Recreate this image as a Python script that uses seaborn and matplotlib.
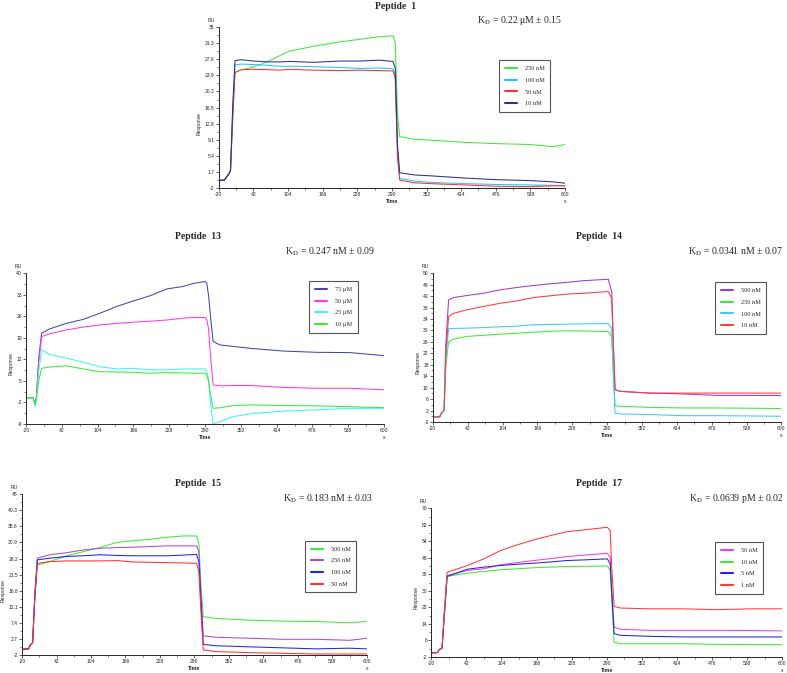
import numpy as np
import pandas as pd
import matplotlib
matplotlib.use("Agg")
import matplotlib.pyplot as plt
from matplotlib.ticker import AutoMinorLocator, FixedLocator
import seaborn as sns

sns.set_style("ticks")
plt.rcParams["font.family"] = ["Liberation Sans", "DejaVu Sans"]
plt.rcParams["mathtext.fontset"] = "stix"

# values (time in s, response in RU)
xticks = [-20, 42, 104, 166, 228, 290, 352, 414, 476, 538, 600]

# Peptide 1
p1_time = [-20, -10, -7, -2, 1, 5, 9, 20, 42, 70, 90, 107, 150, 197, 233, 268, 292, 296, 300, 304, 330, 358, 418, 478, 537, 579, 600]
p1_250 = [-0.2, -0.1, 0.3, 1.3, 2.0, 15, 24.5, 25.2, 25.8, 27.2, 28.5, 29.5, 30.6, 31.6, 32.2, 32.8, 33.0, 31.5, 15, 9.8, 9.2, 9.0, 8.5, 8.2, 8.0, 7.5, 8.0]
p1_100 = [-0.2, -0.2, 0.3, 1.2, 1.9, 16, 26.3, 26.5, 26.4, 26.2, 26.0, 26.0, 25.9, 25.7, 25.5, 25.6, 25.4, 24.0, 6, 0.2, -0.4, -0.7, -1.0, -1.2, -1.3, -1.4, -1.5]
p1_50 = [-0.2, -0.2, 0.4, 1.3, 2.0, 14, 24.6, 25.2, 25.3, 25.2, 25.1, 25.3, 25.1, 25.0, 25.1, 25.0, 24.9, 23.0, 5, -0.2, -0.8, -1.0, -1.3, -1.6, -1.7, -1.5, -1.5]
p1_10 = [-0.3, -0.2, 0.4, 1.2, 2.0, 17, 27.3, 27.5, 27.2, 27.0, 27.0, 27.1, 26.9, 27.2, 27.2, 27.4, 27.1, 25.5, 8, 1.5, 1.0, 0.8, 0.3, -0.1, -0.3, -0.6, -0.9]
p1_labels = ["250 nM", "100 nM", "50 nM", "10 nM"]
p1_colors = ["#3ee83e", "#1ec8ff", "#ff3030", "#2e2e96"]
p1_yticks = ["-2", "1.7", "5.4", "9.1", "12.8", "16.5", "20.2", "23.9", "27.6", "31.3", "35"]

# Peptide 13
p13_time = [-20, -8, -4, -2, 2, 7, 21, 50, 79, 108, 137, 166, 195, 224, 252, 270, 290, 293, 296, 300, 304, 316, 339, 368, 426, 483, 541, 600]
p13_75 = [-0.5, -0.4, -2.5, -0.5, 12, 20.5, 21.9, 23.7, 25.0, 27.0, 29.2, 31.0, 32.7, 34.9, 35.7, 36.7, 37.3, 36.8, 33.0, 25, 17.8, 16.7, 16.2, 15.6, 14.7, 14.3, 14.2, 13.2]
p13_50 = [-0.5, -0.4, -2.5, -0.5, 11, 19.4, 20.3, 21.6, 22.5, 23.2, 23.7, 24.1, 24.4, 24.8, 25.4, 25.6, 25.6, 25.0, 22.1, 12, 3.7, 3.4, 3.5, 3.5, 2.9, 2.6, 2.6, 2.1]
p13_25 = [-0.5, -0.6, -3.4, -1.0, 8, 15.1, 13.6, 12.4, 11.1, 9.6, 8.9, 9.1, 8.6, 8.6, 8.9, 8.9, 8.9, 8.0, 5.9, -3, -9.0, -8.2, -6.6, -5.7, -4.8, -4.4, -3.9, -3.9]
p13_10 = [-0.5, -0.5, -2.6, -0.8, 5, 9.1, 9.5, 9.9, 8.9, 8.0, 7.9, 7.8, 7.5, 7.7, 7.6, 7.5, 7.5, 7.0, 4.8, 0, -3.9, -3.7, -3.0, -2.8, -3.0, -3.1, -3.4, -3.7]
p13_labels = ["75 \u00b5M", "50 \u00b5M", "25 \u00b5M", "10 \u00b5M"]
p13_colors = ["#4646a8", "#ff3ae0", "#3cf5f5", "#3ee83e"]
p13_yticks = ["-9", "-2", "5", "12", "19", "26", "33", "40"]

# Peptide 14
p14_time = [-20, -8, -4, 0, 3, 8, 17, 40, 70, 100, 129, 159, 188, 218, 248, 292, 298, 301, 304, 313, 366, 425, 484, 544, 600]
p14_500 = [-0.3, -0.2, 1.3, 2.0, 25, 40.7, 41.5, 42.2, 43.0, 44.2, 45.0, 45.7, 46.3, 46.8, 47.4, 47.9, 43.6, 25, 9.3, 8.7, 8.1, 7.8, 7.3, 7.3, 7.2]
p14_250 = [-0.3, -0.2, 1.3, 2.0, 17, 26.1, 27.0, 27.9, 28.3, 28.7, 29.0, 29.4, 29.7, 29.9, 29.8, 29.6, 27.9, 15, 3.7, 3.5, 3.1, 2.9, 2.9, 2.8, 2.7]
p14_100 = [-0.3, -0.2, 1.3, 2.0, 20, 30.6, 30.7, 30.8, 31.0, 31.3, 31.5, 32.0, 32.1, 32.2, 32.3, 32.4, 30.8, 15, 1.1, 0.8, 0.6, 0.2, 0.2, 0.1, 0.0]
p14_10 = [-0.3, -0.2, 1.3, 2.0, 22, 34.9, 36.0, 37.2, 38.4, 39.5, 40.3, 41.5, 42.1, 42.7, 43.0, 43.6, 41.3, 25, 9.3, 8.7, 8.1, 8.1, 8.1, 8.1, 8.1]
p14_labels = ["500 nM", "250 nM", "100 nM", "10 nM"]
p14_colors = ["#9a3ccc", "#3ee83e", "#3cc8ff", "#ff3a3a"]
p14_yticks = ["-2", "2", "6", "10", "14", "18", "22", "26", "30", "34", "38", "42", "46", "50"]

# Peptide 15
p15_time = [-20, -8, -5, -1, 3, 7.5, 30, 60, 90, 120, 150, 180, 210, 240, 270, 294, 298, 302, 306, 329, 389, 449, 509, 569, 600]
p15_500 = [-0.3, -0.2, 1.0, 1.6, 14, 24.3, 25.3, 27.0, 28.2, 29.4, 30.9, 31.4, 31.8, 32.4, 32.8, 32.8, 30.7, 18, 9.2, 8.7, 8.2, 7.9, 7.8, 7.4, 7.8]
p15_250 = [-0.3, -0.2, 1.0, 1.6, 16, 26.3, 27.3, 27.9, 28.7, 29.2, 29.4, 29.5, 29.7, 29.9, 29.9, 29.9, 28.2, 15, 3.6, 3.2, 2.9, 2.6, 2.6, 2.3, 2.9]
p15_100 = [-0.3, -0.2, 1.0, 1.6, 15, 25.8, 26.3, 26.8, 27.0, 27.3, 27.1, 27.0, 27.0, 27.0, 27.2, 27.4, 25.3, 13, 1.1, 0.7, 0.4, 0.1, -0.2, 0.0, -0.2]
p15_50 = [-0.3, -0.2, 1.0, 1.6, 15, 24.8, 25.3, 25.5, 25.5, 25.5, 25.6, 25.2, 25.1, 25.0, 24.9, 24.8, 22.4, 10, -0.5, -1.0, -1.3, -1.5, -1.7, -1.7, -1.7]
p15_labels = ["500 nM", "250 nM", "100 nM", "50 nM"]
p15_colors = ["#3ee83e", "#a64ccc", "#2424ee", "#ff3030"]
p15_yticks = ["-2", "2.7", "7.4", "12.1", "16.8", "21.5", "26.2", "30.9", "35.6", "40.3", "45"]

# Peptide 17
p17_time = [-20, -9, -6, -1, 3, 8, 44, 73, 102, 132, 161, 191, 220, 250, 291, 296, 299, 303, 314, 367, 426, 485, 544, 600]
p17_50 = [0.0, 0.1, 1.6, 2.3, 18, 37.4, 39.9, 40.7, 42.6, 43.7, 44.7, 45.6, 46.6, 47.3, 48.2, 46.3, 30, 12.5, 11.4, 10.9, 10.9, 10.9, 10.8, 10.6]
p17_10 = [0.0, 0.1, 1.6, 2.3, 18, 37.0, 38.6, 39.4, 40.2, 40.7, 41.2, 41.5, 41.8, 41.9, 42.0, 39.9, 25, 5.2, 4.4, 4.4, 4.4, 4.1, 4.0, 4.0]
p17_5 = [0.0, 0.1, 1.6, 2.3, 18, 37.0, 40.5, 41.5, 42.3, 42.9, 43.4, 44.0, 44.7, 45.0, 45.5, 43.1, 28, 9.3, 8.5, 8.0, 7.7, 7.7, 7.7, 7.7]
p17_1 = [0.0, 0.1, 1.6, 2.3, 20, 39.0, 42.3, 45.5, 49.5, 52.3, 54.7, 56.8, 58.7, 59.5, 60.8, 59.2, 40, 22.5, 21.7, 21.3, 21.3, 20.9, 21.3, 21.3]
p17_labels = ["50 nM", "10 nM", "5 nM", "1 nM"]
p17_colors = ["#f03cf0", "#3ee83e", "#2424dd", "#ff3a3a"]
p17_yticks = ["-2", "6", "14", "22", "30", "38", "46", "54", "62", "70"]

fig = plt.figure(figsize=(7.87, 6.73), dpi=100)
serif = ["Liberation Serif", "DejaVu Serif"]


def panel(rect, time, series, labels, colors, yticks, title, title_xy, kd, kd_xy, leg_xy):
    ax = fig.add_axes(rect)
    df = pd.DataFrame({
        "Time": np.tile(time, len(series)),
        "RU": np.concatenate(series),
        "conc": np.repeat(labels, len(time)),
    })
    sns.lineplot(data=df, x="Time", y="RU", hue="conc", hue_order=labels,
                 palette=dict(zip(labels, colors)), estimator=None, sort=False,
                 lw=0.75, ax=ax)
    yv = [float(v) for v in yticks]
    ax.set_xlim(-20, 600)
    ax.set_ylim(yv[0], yv[-1])
    ax.xaxis.set_major_locator(FixedLocator(xticks))
    ax.set_xticklabels([str(v) for v in xticks])
    ax.yaxis.set_major_locator(FixedLocator(yv))
    ax.set_yticklabels(yticks)
    ax.xaxis.set_minor_locator(AutoMinorLocator(2))
    ax.yaxis.set_minor_locator(AutoMinorLocator(2))
    ax.tick_params(which="major", labelsize=3.6, length=2, width=0.5, pad=1)
    ax.tick_params(which="minor", length=1.2, width=0.4)
    sns.despine(ax=ax)
    for s in ["left", "bottom"]:
        ax.spines[s].set_linewidth(0.7)
    ax.set_xlabel("Time", fontsize=3.8, fontweight="bold", labelpad=1)
    ax.set_ylabel("Response", fontsize=3.6, labelpad=2, y=0.4)
    ax.annotate("RU", xy=(0, 1), xycoords="axes fraction", xytext=(-3, 3),
                textcoords="offset points", ha="right", va="bottom", fontsize=3.6)
    ax.annotate("s", xy=(1, 0), xycoords="axes fraction", xytext=(0, -8),
                textcoords="offset points", ha="center", va="top", fontsize=3.6)
    fig.text(title_xy[0], title_xy[1], title, ha="center", va="center",
             fontsize=7, fontweight="bold", family=serif)
    fig.text(kd_xy[0], kd_xy[1], kd, ha="right", va="center", fontsize=7, family=serif)
    h, l = ax.get_legend_handles_labels()
    leg = ax.legend(h, l, loc="upper left", bbox_to_anchor=leg_xy,
                    bbox_transform=fig.transFigure,
                    prop={"family": serif, "size": 4.5}, frameon=True, fancybox=False,
                    edgecolor="#555555", framealpha=1, borderpad=0.9, labelspacing=1.0,
                    handlelength=2.0, handletextpad=1.2)
    leg.get_frame().set_linewidth(0.8)
    for ln in leg.get_lines():
        ln.set_linewidth(1.5)
    return ax


panel([0.278, 0.7207, 0.440, 0.239], p1_time, [p1_250, p1_100, p1_50, p1_10],
      p1_labels, p1_colors, p1_yticks, "Peptide  1", (0.502, 0.991),
      "K$_{\\rm D}$ = 0.22 \u03bcM \u00b1 0.15", (0.714, 0.970), (0.630, 0.915))
panel([0.033, 0.370, 0.455, 0.224], p13_time, [p13_75, p13_50, p13_25, p13_10],
      p13_labels, p13_colors, p13_yticks, "Peptide  13", (0.252, 0.649),
      "K$_{\\rm D}$ = 0.247 nM \u00b1 0.09", (0.476, 0.626), (0.389, 0.587))
panel([0.550, 0.373, 0.443, 0.221], p14_time, [p14_500, p14_250, p14_100, p14_10],
      p14_labels, p14_colors, p14_yticks, "Peptide  14", (0.761, 0.649),
      "K$_{\\rm D}$ = 0.0341 nM \u00b1 0.07", (0.995, 0.626), (0.905, 0.585))
panel([0.028, 0.0267, 0.438, 0.239], p15_time, [p15_500, p15_250, p15_100, p15_50],
      p15_labels, p15_colors, p15_yticks, "Peptide  15", (0.252, 0.282),
      "K$_{\\rm D}$ = 0.183 nM \u00b1 0.03", (0.473, 0.259), (0.384, 0.201))
panel([0.548, 0.0238, 0.446, 0.221], p17_time, [p17_50, p17_10, p17_5, p17_1],
      p17_labels, p17_colors, p17_yticks, "Peptide  17", (0.761, 0.282),
      "K$_{\\rm D}$ = 0.0639 pM \u00b1 0.02", (0.995, 0.259), (0.905, 0.199))

fig.savefig("out.png", dpi=100)
